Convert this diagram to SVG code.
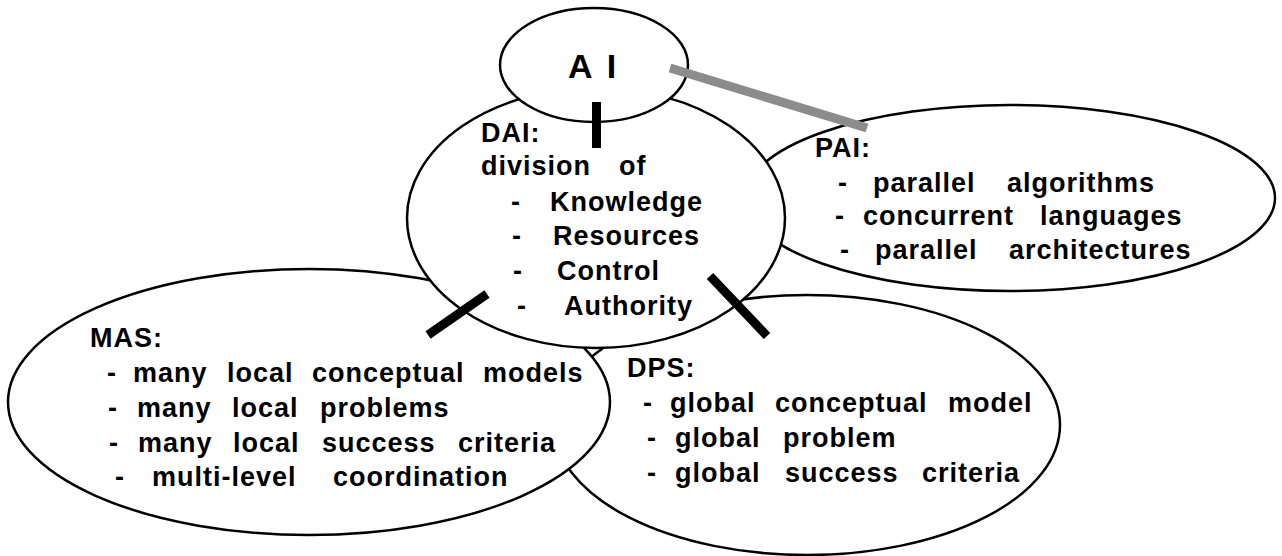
<svg xmlns="http://www.w3.org/2000/svg" width="1282" height="556" viewBox="0 0 1282 556">
<style>
.node{fill:#fff;stroke:#000;stroke-width:2.5}
.t{font-family:"Liberation Sans",Arial,Helvetica,sans-serif;font-weight:bold;font-size:27px;letter-spacing:1px;fill:#000}
.ai{font-size:34px;letter-spacing:3px}
.bar{stroke:#000;stroke-width:9;stroke-linecap:butt;fill:none}
.gbar{stroke:#8c8c8c;stroke-width:9;stroke-linecap:butt;fill:none}
</style>
<rect width="1282" height="556" fill="#fff"/>
<g id="node-pai">
<ellipse class="node" cx="1010" cy="198" rx="265" ry="93"/>
<text class="t" x="815" y="157">PAI:</text>
<text class="t" y="192"><tspan x="838">-</tspan> <tspan x="873">parallel</tspan> <tspan x="1007">algorithms</tspan></text>
<text class="t" y="225"><tspan x="835">-</tspan> <tspan x="863">concurrent</tspan> <tspan x="1040">languages</tspan></text>
<text class="t" y="259"><tspan x="840">-</tspan> <tspan x="875">parallel</tspan> <tspan x="1009">architectures</tspan></text>
</g>
<g id="node-dps">
<ellipse class="node" cx="807" cy="425" rx="253" ry="130"/>
<text class="t" x="627" y="377">DPS:</text>
<text class="t" y="412"><tspan x="643">-</tspan> <tspan x="670">global</tspan> <tspan x="775">conceptual</tspan> <tspan x="948">model</tspan></text>
<text class="t" y="447"><tspan x="647">-</tspan> <tspan x="675">global</tspan> <tspan x="783">problem</tspan></text>
<text class="t" y="482"><tspan x="647">-</tspan> <tspan x="675">global</tspan> <tspan x="785">success</tspan> <tspan x="922">criteria</tspan></text>
</g>
<g id="node-mas">
<ellipse class="node" cx="309" cy="402" rx="301" ry="133"/>
<text class="t" x="90" y="347">MAS:</text>
<text class="t" y="382"><tspan x="107">-</tspan> <tspan x="133">many</tspan> <tspan x="227">local</tspan> <tspan x="312">conceptual</tspan> <tspan x="483">models</tspan></text>
<text class="t" y="417"><tspan x="108">-</tspan> <tspan x="137">many</tspan> <tspan x="232">local</tspan> <tspan x="320">problems</tspan></text>
<text class="t" y="452"><tspan x="109">-</tspan> <tspan x="138">many</tspan> <tspan x="233">local</tspan> <tspan x="322">success</tspan> <tspan x="458">criteria</tspan></text>
<text class="t" y="486"><tspan x="115">-</tspan> <tspan x="152">multi-level</tspan> <tspan x="333">coordination</tspan></text>
</g>
<g id="node-dai">
<ellipse class="node" cx="596" cy="218" rx="189" ry="130"/>
<text class="t" x="481" y="142">DAI:</text>
<text class="t" y="175"><tspan x="481">division</tspan> <tspan x="619">of</tspan></text>
<text class="t" y="211"><tspan x="511">-</tspan> <tspan x="550">Knowledge</tspan></text>
<text class="t" y="245"><tspan x="512">-</tspan> <tspan x="553">Resources</tspan></text>
<text class="t" y="280"><tspan x="513">-</tspan> <tspan x="557">Control</tspan></text>
<text class="t" y="315"><tspan x="517">-</tspan> <tspan x="564">Authority</tspan></text>
</g>
<g id="node-ai">
<ellipse class="node" cx="594" cy="65" rx="94" ry="57"/>
<text class="t ai" x="568" y="78">A I</text>
</g>
<g id="connectors">
<line class="gbar" x1="670" y1="68" x2="867" y2="128"/>
<line class="bar" x1="596.5" y1="102" x2="596.5" y2="148"/>
<line class="bar" x1="428" y1="335" x2="487" y2="294"/>
<line class="bar" x1="710" y1="276" x2="767" y2="336"/>
</g>
</svg>
